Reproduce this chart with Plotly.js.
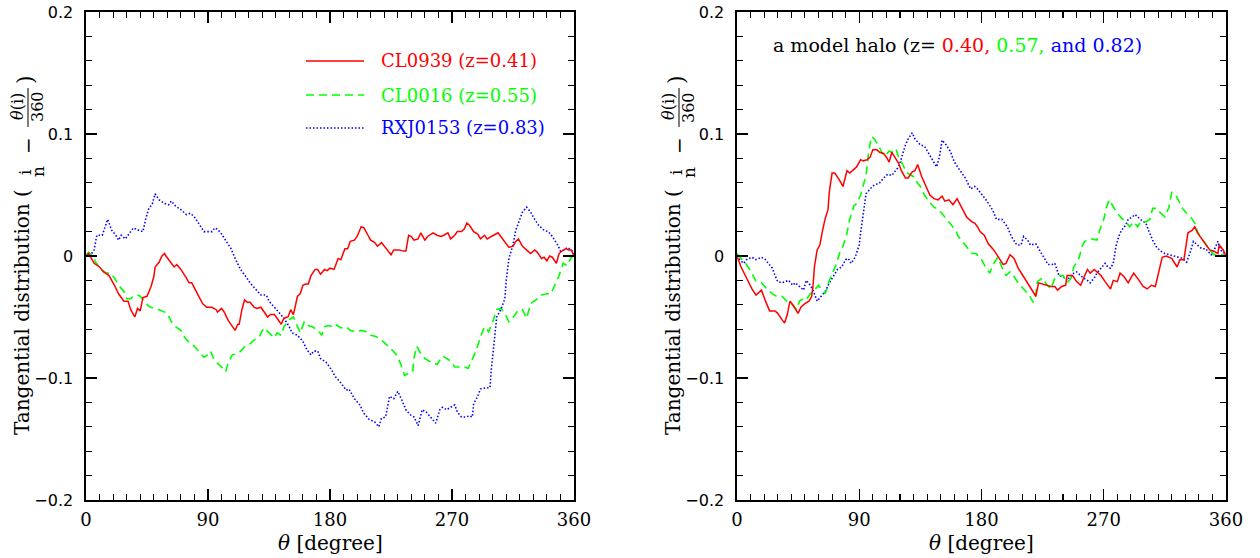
<!DOCTYPE html>
<html>
<head>
<meta charset="utf-8">
<script src="https://cdn.plot.ly/plotly-3.0.1.min.js"></script>
<style>html,body{margin:0;padding:0;background:#fff;}#chart{width:1260px;height:558px;}</style>
</head>
<body>
<div id="chart"></div>
<script>
// ---------- Left panel: observed clusters ----------
const cl0939_theta = [0,2,6,10,13,17,21,24,28,31,33,36,38,40,42,45,48,50,51,54,56,58,59,62,65,67,70,74,76,78,82,86,89,93,96,97,100,102,105,108,110,112,113,115,117,119,121,124,126,129,131,134,136,139,141,144,146,149,151,153,156,158,160,162,164,166,169,171,173,176,178,180,
  183,186,188,191,193,195,198,200,203,205,208,210,213,215,218,221,225,227,231,234,236,238,240,242,245,247,250,252,256,259,262,264,267,269,272,274,277,279,281,283,286,289,291,294,296,299,301,304,306,310,312,315,317,319,322,326,328,331,333,336,338,340,342,344,347,349,351,354,356,358,360];
const cl0939_val = [0,0.002,-0.006,-0.009,-0.013,-0.016,-0.024,-0.031,-0.037,-0.037,-0.044,-0.050,-0.043,-0.045,-0.034,-0.033,-0.025,-0.017,-0.009,-0.005,0,0.002,0,-0.005,-0.009,-0.007,-0.011,-0.018,-0.022,-0.022,-0.031,-0.039,-0.042,-0.042,-0.044,-0.046,-0.043,-0.046,-0.053,-0.058,-0.061,-0.056,-0.056,-0.044,-0.036,-0.038,-0.038,-0.042,-0.043,-0.042,-0.045,-0.050,-0.048,-0.048,-0.051,-0.056,-0.051,-0.050,-0.044,-0.048,-0.033,-0.031,-0.024,-0.023,-0.023,-0.016,-0.011,-0.011,-0.015,-0.011,-0.012,-0.010,
  -0.011,-0.002,-0.003,0.006,0.006,0.012,0.013,0.016,0.024,0.023,0.017,0.013,0.011,0.008,0.011,0.007,0.001,0.005,0.005,0.004,0.004,0.017,0.016,0.013,0.014,0.019,0.013,0.016,0.019,0.017,0.016,0.017,0.019,0.014,0.017,0.020,0.020,0.022,0.027,0.025,0.020,0.018,0.014,0.017,0.014,0.016,0.017,0.019,0.016,0.010,0.007,0.008,0.012,0.014,0.008,0.004,0.002,0.005,0.003,-0.002,-0.001,-0.004,0,-0.001,-0.006,0.002,0.004,0.006,0.005,0.005,0];

const cl0016_theta = [0,2,5,7,11,15,18,21,24,28,30,33,35,38,40,43,46,50,54,58,60,63,66,70,73,77,80,83,87,90,92,94,97,100,103,105,108,112,115,118,121,124,128,131,135,139,141,144,146,150,153,156,158,161,164,167,171,174,176,179,182,
  184,188,192,195,199,203,207,210,214,218,221,225,229,232,235,238,241,242,244,247,250,253,256,259,263,266,269,272,275,279,282,285,288,291,294,297,300,303,306,309,312,316,319,322,325,328,332,336,340,343,346,349,352,355,358,360];
const cl0016_val = [0.001,0.003,0,-0.005,-0.011,-0.014,-0.014,-0.018,-0.024,-0.029,-0.035,-0.035,-0.033,-0.032,-0.033,-0.037,-0.041,-0.043,-0.044,-0.046,-0.047,-0.054,-0.058,-0.061,-0.067,-0.072,-0.074,-0.078,-0.083,-0.081,-0.078,-0.084,-0.088,-0.091,-0.095,-0.087,-0.081,-0.080,-0.077,-0.073,-0.072,-0.069,-0.066,-0.059,-0.063,-0.067,-0.063,-0.065,-0.058,-0.052,-0.050,-0.058,-0.063,-0.054,-0.057,-0.058,-0.061,-0.065,-0.058,-0.057,-0.058,
  -0.056,-0.059,-0.058,-0.061,-0.062,-0.061,-0.062,-0.065,-0.066,-0.069,-0.072,-0.076,-0.081,-0.088,-0.098,-0.096,-0.095,-0.083,-0.074,-0.080,-0.084,-0.086,-0.087,-0.089,-0.082,-0.084,-0.086,-0.091,-0.091,-0.091,-0.092,-0.084,-0.077,-0.066,-0.058,-0.062,-0.054,-0.044,-0.043,-0.047,-0.054,-0.049,-0.044,-0.044,-0.051,-0.039,-0.036,-0.032,-0.031,-0.031,-0.024,-0.016,-0.006,-0.008,-0.001,0];

const rxj0153_theta = [0,3,6,8,12,16,19,22,24,26,29,33,35,39,42,44,46,49,51,54,58,61,63,66,70,74,77,80,83,87,91,93,95,97,100,103,107,110,114,118,121,125,129,133,135,139,142,146,150,152,156,160,163,166,168,171,173,
  177,181,184,188,192,194,198,202,205,209,213,216,218,221,224,227,230,233,236,239,242,245,248,251,255,258,261,263,266,269,272,274,277,280,283,285,286,289,291,295,298,299,301,303,306,309,310,312,315,317,320,322,325,328,331,334,338,341,344,348,350,353,355,358,360];
const rxj0153_val = [0,0,0.005,0.017,0.017,0.030,0.021,0.017,0.013,0.017,0.014,0.020,0.023,0.021,0.020,0.030,0.038,0.043,0.051,0.046,0.043,0.042,0.045,0.041,0.038,0.034,0.035,0.032,0.027,0.020,0.020,0.020,0.023,0.022,0.018,0.013,0.006,-0.002,-0.011,-0.017,-0.022,-0.027,-0.032,-0.032,-0.037,-0.042,-0.046,-0.051,-0.058,-0.063,-0.065,-0.070,-0.077,-0.081,-0.078,-0.078,-0.084,
  -0.087,-0.093,-0.099,-0.104,-0.110,-0.109,-0.117,-0.122,-0.129,-0.134,-0.136,-0.140,-0.133,-0.132,-0.115,-0.117,-0.111,-0.118,-0.126,-0.130,-0.132,-0.139,-0.126,-0.128,-0.133,-0.137,-0.126,-0.124,-0.126,-0.124,-0.122,-0.128,-0.132,-0.132,-0.131,-0.132,-0.121,-0.115,-0.109,-0.108,-0.108,-0.093,-0.072,-0.050,-0.044,-0.035,-0.020,-0.002,0.009,0.021,0.030,0.036,0.040,0.036,0.030,0.025,0.021,0.020,0.016,0.009,0.004,0.005,0.007,0.005,0.001];

// ---------- Right panel: model halo ----------
const halo040_theta = [0,3,7,11,14,18,21,24,28,30,33,35,37,39,41,43,45,47,50,53,55,56,57,59,61,63,65,67,68,70,72,75,78,81,83,86,88,91,93,96,98,100,103,105,108,110,112,114,116,119,121,124,126,129,131,133,136,139,142,145,148,151,153,156,159,162,165,169,173,175,
  177,179,182,185,189,193,196,198,201,204,207,211,215,218,220,222,225,228,231,234,236,239,242,243,247,250,253,256,258,260,263,265,268,271,275,277,280,282,285,288,292,296,299,302,305,308,311,313,316,320,324,326,329,332,335,337,339,342,345,348,351,354,355,358,360];
const halo040_val = [0,-0.009,-0.018,-0.027,-0.032,-0.028,-0.037,-0.045,-0.045,-0.047,-0.052,-0.055,-0.048,-0.037,-0.040,-0.044,-0.047,-0.042,-0.039,-0.037,-0.033,-0.024,-0.009,0.005,0.009,0.021,0.031,0.038,0.053,0.068,0.068,0.063,0.057,0.070,0.068,0.071,0.073,0.079,0.078,0.079,0.081,0.087,0.087,0.085,0.084,0.081,0.077,0.085,0.081,0.076,0.070,0.064,0.064,0.069,0.070,0.075,0.065,0.057,0.050,0.047,0.046,0.049,0.045,0.046,0.042,0.047,0.040,0.032,0.028,0.027,
  0.024,0.020,0.017,0.010,0.005,-0.002,-0.007,-0.006,0.001,-0.002,-0.010,-0.017,-0.024,-0.030,-0.033,-0.022,-0.023,-0.024,-0.025,-0.025,-0.028,-0.025,-0.024,-0.016,-0.016,-0.021,-0.024,-0.016,-0.011,-0.014,-0.011,-0.013,-0.016,-0.021,-0.027,-0.020,-0.021,-0.014,-0.017,-0.022,-0.014,-0.020,-0.025,-0.027,-0.024,-0.025,-0.009,-0.001,0,-0.002,-0.009,-0.003,-0.003,0.019,0.021,0.024,0.019,0.014,0.010,0.005,0.004,0.002,0.009,0.005,0];

const halo057_theta = [0,3,7,11,14,18,22,26,29,33,35,38,41,44,46,49,51,54,57,60,63,65,68,71,73,76,78,81,83,86,88,91,93,95,97,99,101,104,107,109,112,114,117,119,122,125,127,130,132,135,138,141,145,147,150,153,157,161,163,167,170,173,176,
  180,183,186,189,192,195,198,201,204,207,211,215,218,220,221,225,227,231,234,237,240,243,246,248,252,254,256,259,261,265,267,270,272,274,277,280,284,287,289,292,295,297,301,304,306,309,312,315,318,320,323,325,328,331,334,337,339,342,345,348,351,355,357,360];
const halo057_val = [0.002,-0.002,-0.007,-0.014,-0.021,-0.022,-0.027,-0.031,-0.033,-0.033,-0.035,-0.039,-0.040,-0.044,-0.037,-0.035,-0.036,-0.031,-0.028,-0.024,-0.028,-0.031,-0.020,-0.013,-0.007,0.004,0.008,0.019,0.030,0.041,0.043,0.050,0.058,0.066,0.086,0.098,0.096,0.091,0.084,0.082,0.086,0.085,0.088,0.081,0.075,0.068,0.067,0.065,0.061,0.057,0.050,0.045,0.040,0.039,0.036,0.032,0.027,0.021,0.016,0.010,0.006,0.002,0.002,
  -0.003,-0.009,-0.014,-0.006,-0.001,-0.009,-0.016,-0.013,-0.017,-0.022,-0.027,-0.032,-0.038,-0.032,-0.021,-0.018,-0.022,-0.027,-0.018,-0.016,-0.016,-0.022,-0.018,-0.009,-0.001,0.008,0.012,0.013,0.014,0.013,0.021,0.030,0.040,0.046,0.040,0.035,0.030,0.027,0.024,0.028,0.024,0.028,0.028,0.030,0.039,0.039,0.035,0.032,0.040,0.052,0.050,0.046,0.039,0.035,0.032,0.027,0.020,0.014,0.010,0.005,0.001,0.002,0.001,0];

const halo082_theta = [0,2,5,7,11,14,18,21,23,26,28,30,33,36,38,41,43,46,49,51,54,56,59,62,65,68,71,74,77,80,82,84,87,90,91,93,95,98,101,105,108,111,114,116,119,121,124,126,129,131,135,138,141,145,147,149,151,154,157,160,164,168,172,175,
  177,180,184,188,191,195,199,202,206,209,211,214,216,220,222,225,229,232,234,237,240,243,245,248,250,253,255,258,260,263,265,268,271,273,275,277,279,281,283,286,288,291,293,297,301,303,306,309,312,315,319,322,325,328,331,334,336,339,342,345,349,351,354,356,360];
const halo082_val = [0,-0.003,-0.006,-0.003,-0.001,-0.003,-0.001,-0.003,-0.006,-0.010,-0.016,-0.021,-0.022,-0.021,-0.020,-0.024,-0.022,-0.025,-0.028,-0.020,-0.024,-0.028,-0.037,-0.033,-0.029,-0.022,-0.016,-0.011,-0.009,-0.003,-0.002,-0.006,-0.001,0.009,0.019,0.035,0.051,0.055,0.058,0.060,0.064,0.067,0.066,0.069,0.073,0.080,0.091,0.096,0.101,0.096,0.091,0.090,0.084,0.077,0.073,0.081,0.095,0.091,0.086,0.077,0.070,0.064,0.055,0.057,
  0.055,0.051,0.045,0.038,0.030,0.030,0.024,0.016,0.009,0.009,0.016,0.013,0.009,0.010,0.006,0.001,-0.007,-0.007,-0.006,-0.016,-0.017,-0.020,-0.017,-0.014,-0.013,-0.016,-0.018,-0.020,-0.022,-0.018,-0.014,-0.010,-0.006,-0.009,-0.010,-0.006,0.008,0.016,0.021,0.025,0.030,0.032,0.034,0.030,0.027,0.021,0.013,0.007,0.004,0.002,0.001,0,-0.001,-0.002,-0.005,0.004,0.012,0.009,0.006,0.006,0.001,0.004,0.012,0.005,0.001];

const legendLabels = ['CL0939 (z=0.41)', 'CL0016 (z=0.55)', 'RXJ0153 (z=0.83)'];
const xTickVals = [0, 90, 180, 270, 360];

// ---------- styles ----------
const RED = '#ff0000', GREEN = '#00ff00', BLUE = '#0000ff';
const SOLID = 'solid', DASHED = '8px,5px', DOTTED = '1.5px,2px';
const SERIF = 'DejaVu Serif';
const SANS = 'DejaVu Sans';

function tr(x, y, color, dash, w, xa, ya, name) {
  return {x: x, y: y, type: 'scatter', mode: 'lines', name: name, xaxis: xa, yaxis: ya,
    line: {color: color, dash: dash, width: w}, showlegend: false, hoverinfo: 'skip'};
}
const data = [
  tr(cl0016_theta, cl0016_val, GREEN, DASHED, 1.6, 'x', 'y', legendLabels[1]),
  tr(rxj0153_theta, rxj0153_val, BLUE, DOTTED, 1.6, 'x', 'y', legendLabels[2]),
  tr(cl0939_theta, cl0939_val, RED, SOLID, 1.5, 'x', 'y', legendLabels[0]),
  tr(halo082_theta, halo082_val, BLUE, DOTTED, 1.6, 'x2', 'y2', 'z=0.82'),
  tr(halo057_theta, halo057_val, GREEN, DASHED, 1.6, 'x2', 'y2', 'z=0.57'),
  tr(halo040_theta, halo040_val, RED, SOLID, 1.5, 'x2', 'y2', 'z=0.40')
];

const W = 1260, H = 558;
const X = px => px / W;
const Y = py => 1 - py / H;

function xax(dom, anchor) {
  return {domain: dom, anchor: anchor, range: [0, 360], tickvals: xTickVals, ticks: 'inside', ticklen: 11,
    tickwidth: 1.2, tickcolor: '#000', showline: true, linecolor: '#000', linewidth: 1.6, mirror: 'allticks',
    showgrid: false, zeroline: false, ticklabelstandoff: 3,
    tickfont: {family: SERIF, size: 18, color: '#000'},
    minor: {dtick: 10, tick0: 0, ticks: 'inside', ticklen: 6, tickwidth: 1.1, tickcolor: '#000', showgrid: false}};
}
function yax(dom, anchor) {
  return {domain: dom, anchor: anchor, range: [-0.2, 0.2], tick0: 0, dtick: 0.1, ticks: 'inside', ticklen: 11,
    tickwidth: 1.2, tickcolor: '#000', showline: true, linecolor: '#000', linewidth: 1.6, mirror: 'allticks',
    showgrid: false, zeroline: false, ticklabelstandoff: 8,
    tickfont: {family: SANS, size: 16, color: '#000'},
    minor: {dtick: 0.02, tick0: 0, ticks: 'inside', ticklen: 6, tickwidth: 1.1, tickcolor: '#000', showgrid: false}};
}
const yDom = [Y(500), Y(12)];

const annotations = [];
const shapes = [];
function ytitle(o) {
  const rot = {textangle: -90, showarrow: false, xref: 'paper', yref: 'paper', xanchor: 'center'};
  annotations.push(Object.assign({}, rot, {text: 'Tangential distribution (', x: X(22 + o), y: Y(187), yanchor: 'top', font: {family: SERIF, size: 20, color: '#000'}}));
  annotations.push(Object.assign({}, rot, {text: 'i', x: X(25 + o), y: Y(172), yanchor: 'middle', font: {family: SERIF, size: 17, color: '#000'}}));
  annotations.push(Object.assign({}, rot, {text: 'n', x: X(38 + o), y: Y(172), yanchor: 'middle', font: {family: SERIF, size: 17, color: '#000'}}));
  annotations.push(Object.assign({}, rot, {text: '−', x: X(28 + o), y: Y(146), yanchor: 'middle', font: {family: SERIF, size: 20, color: '#000'}}));
  annotations.push(Object.assign({}, rot, {text: '<i>θ</i>(i)', x: X(18 + o), y: Y(107), yanchor: 'middle', font: {family: SERIF, size: 16, color: '#000'}}));
  annotations.push(Object.assign({}, rot, {text: '360', x: X(38 + o), y: Y(107), yanchor: 'middle', font: {family: SERIF, size: 16, color: '#000'}}));
  annotations.push(Object.assign({}, rot, {text: ')', x: X(25 + o), y: Y(80), yanchor: 'middle', font: {family: SERIF, size: 22, color: '#000'}}));
  shapes.push({type: 'line', xref: 'paper', yref: 'paper', x0: X(28 + o), x1: X(28 + o), y0: Y(88), y1: Y(127), line: {color: '#000', width: 1}});
}
ytitle(0);
ytitle(651);

[330, 981].forEach(cx => annotations.push({text: '<i>θ</i> [degree]', x: X(cx), y: Y(543), xref: 'paper', yref: 'paper',
  xanchor: 'center', yanchor: 'middle', showarrow: false, font: {family: SERIF, size: 20, color: '#000'}}));

// legend (left panel)
const legColors = [RED, GREEN, BLUE], legDash = [SOLID, DASHED, DOTTED], legY = [61, 95, 128];
legendLabels.forEach((lab, i) => {
  shapes.push({type: 'line', xref: 'paper', yref: 'paper', x0: X(306), x1: X(364), y0: Y(legY[i]), y1: Y(legY[i]),
    line: {color: legColors[i], dash: legDash[i], width: 1.5}});
  annotations.push({text: lab, x: X(379), y: Y(legY[i]), xref: 'paper', yref: 'paper', xanchor: 'left', yanchor: 'middle',
    showarrow: false, font: {family: SERIF, size: 18, color: legColors[i]}});
});

// right-panel label
annotations.push({text: 'a model halo (z= <span style="color:#ff0000">0.40,</span> <span style="color:#00ff00">0.57,</span> <span style="color:#0000ff">and 0.82)</span>',
  x: X(771), y: Y(45), xref: 'paper', yref: 'paper', xanchor: 'left', yanchor: 'middle', showarrow: false,
  font: {family: SERIF, size: 19, color: '#000'}});

const layout = {
  width: W, height: H, margin: {l: 0, r: 0, t: 0, b: 0, pad: 0},
  paper_bgcolor: '#fff', plot_bgcolor: '#fff', showlegend: false,
  xaxis: xax([X(86), X(574)], 'y'), yaxis: yax(yDom, 'x'),
  xaxis2: xax([X(737), X(1226)], 'y2'), yaxis2: yax(yDom, 'x2'),
  annotations: annotations, shapes: shapes
};
Plotly.newPlot('chart', data, layout, {staticPlot: true, displayModeBar: false});
</script>
</body>
</html>
